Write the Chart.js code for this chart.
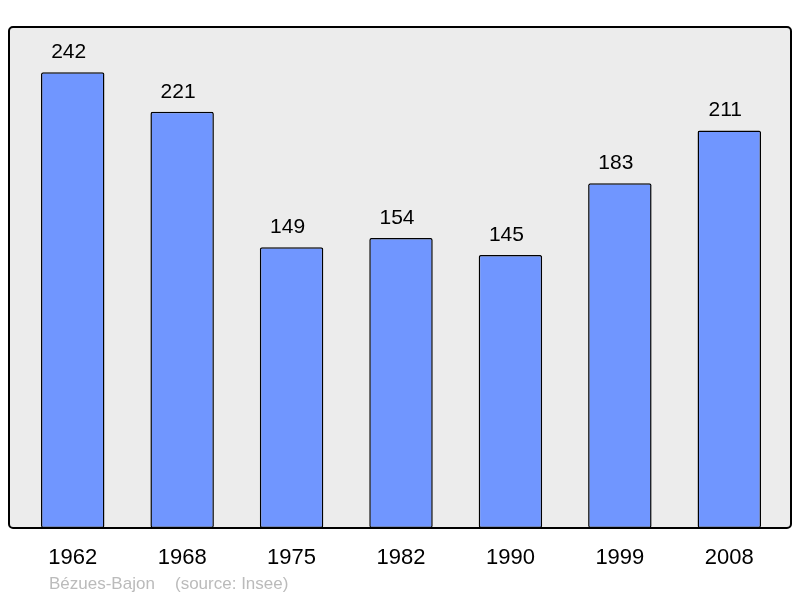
<!DOCTYPE html>
<html>
<head>
<meta charset="utf-8">
<script src="https://cdn.jsdelivr.net/npm/chart.js@4"></script>
<style>
  html, body { margin: 0; padding: 0; background: #fff; }
  #wrap { width: 800px; height: 598px; position: relative; }
</style>
</head>
<body>
<div id="wrap"><canvas id="popChart" width="800" height="598"></canvas></div>
<script>
// Population by census year
const years = ['1962', '1968', '1975', '1982', '1990', '1999', '2008'];
const population = [242, 221, 149, 154, 145, 183, 211];
const placeName = 'Bézues-Bajon';
const sourceText = '(source: Insee)';

// grey rounded panel behind the bars
const panelPlugin = {
    id: 'panel',
    beforeDraw(chart) {
        const ctx = chart.ctx;
        const a = chart.chartArea;
        const x = a.left - 9, y = a.top, w = a.right - a.left + 16, h = a.bottom - a.top;
        ctx.save();
        ctx.fillStyle = '#ececec';
        ctx.beginPath();
        ctx.roundRect(x, y, w, h, 4);
        ctx.fill();
        ctx.restore();
    },
    afterDatasetsDraw(chart) {
        const ctx = chart.ctx;
        const a = chart.chartArea;
        const x = a.left - 9, y = a.top, w = a.right - a.left + 16, h = a.bottom - a.top;
        ctx.save();
        ctx.strokeStyle = '#000';
        ctx.lineWidth = 2;
        ctx.beginPath();
        ctx.roundRect(x, y, w, h, 4);
        ctx.stroke();

        // value labels above each bar
        ctx.fillStyle = '#000';
        ctx.font = '21px "Liberation Sans", Arial, sans-serif';
        ctx.textAlign = 'center';
        ctx.textBaseline = 'middle';
        const meta = chart.getDatasetMeta(0);
        meta.data.forEach((bar, i) => {
            ctx.fillText(String(population[i]), bar.x - 4, bar.y - 20);
        });

        // source line
        ctx.fillStyle = '#bbbbbb';
        ctx.font = '17px "Liberation Sans", Arial, sans-serif';
        ctx.textAlign = 'left';
        ctx.fillText(placeName, 49, 584);
        ctx.fillText(sourceText, 175, 584);
        ctx.restore();
    }
};

new Chart(document.getElementById('popChart').getContext('2d'), {
    type: 'bar',
    data: {
        labels: years,
        datasets: [{
            data: population,
            backgroundColor: '#7096ff',
            borderColor: '#000',
            borderWidth: 1.5,
            borderRadius: 2,
            borderSkipped: false,
            categoryPercentage: 1,
            barPercentage: 0.58
        }]
    },
    options: {
        responsive: false,
        animation: false,
        layout: { padding: { left: 18, right: 16, top: 27, bottom: 0 } },
        plugins: {
            legend: { display: false },
            tooltip: { enabled: false }
        },
        scales: {
            x: {
                grid: { display: false, drawTicks: false },
                border: { display: false },
                ticks: {
                    color: '#000',
                    font: { family: '"Liberation Sans", Arial, sans-serif', size: 22 },
                    padding: 17,
                    maxRotation: 0
                },
                afterFit: s => { s.height = 70; }
            },
            y: {
                display: false,
                min: 0,
                max: 266
            }
        }
    },
    plugins: [panelPlugin]
});
</script>
</body>
</html>
